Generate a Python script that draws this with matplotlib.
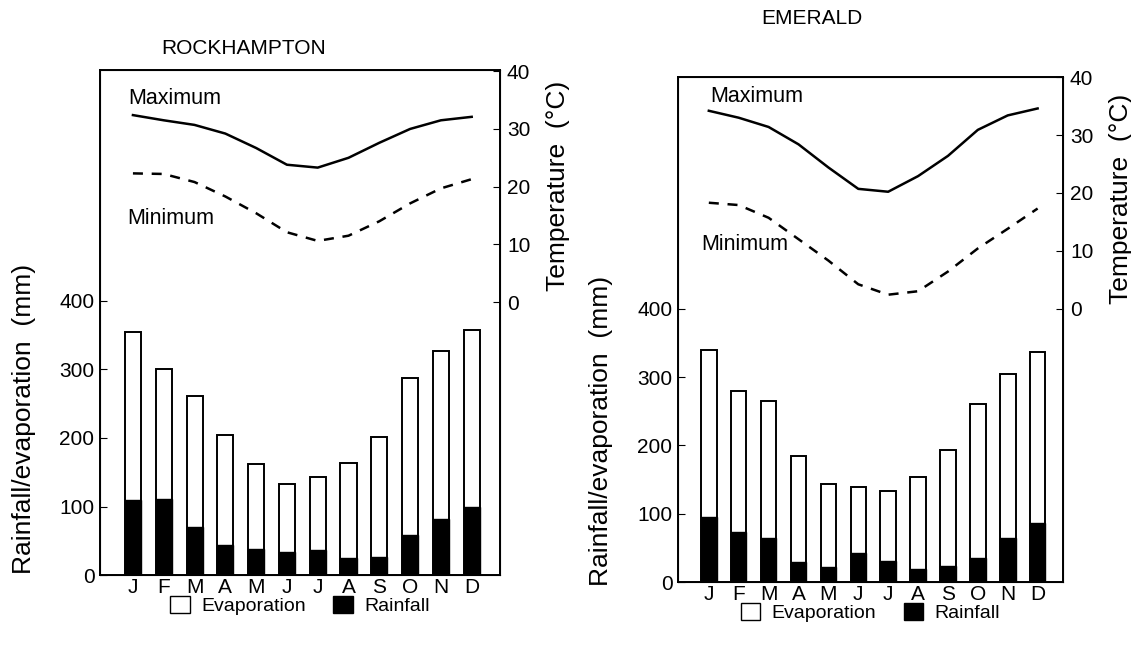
import numpy as np
import matplotlib
matplotlib.use('Agg')
from matplotlib import pyplot as plt
from matplotlib.patches import Patch

plt.rcParams['font.family'] = ['Liberation Sans', 'DejaVu Sans']

months = ['J', 'F', 'M', 'A', 'M', 'J', 'J', 'A', 'S', 'O', 'N', 'D']

# Rockhampton
rock_evap = [355, 300, 262, 205, 162, 133, 143, 163, 202, 287, 327, 358]
rock_rain = [110, 111, 70, 44, 38, 34, 36, 25, 26, 59, 82, 100]
rock_tmax = [32.4, 31.5, 30.7, 29.2, 26.7, 23.8, 23.3, 25.0, 27.6, 30.0, 31.5, 32.1]
rock_tmin = [22.3, 22.2, 20.8, 18.3, 15.4, 12.1, 10.6, 11.5, 14.0, 17.1, 19.7, 21.3]

# Emerald
emer_evap = [339, 280, 265, 185, 143, 139, 134, 154, 194, 261, 304, 336]
emer_rain = [96, 73, 64, 30, 22, 42, 31, 19, 24, 36, 64, 87]
emer_tmax = [34.2, 33.0, 31.4, 28.4, 24.4, 20.7, 20.2, 22.9, 26.4, 30.9, 33.4, 34.6]
emer_tmin = [18.3, 17.9, 15.7, 12.0, 8.3, 4.2, 2.4, 3.0, 6.4, 10.4, 13.8, 17.3]

fig = plt.figure(figsize=(11.31, 6.49), dpi=100)


def panel(rect, title, title_xy, evap, rain, tmax, tmin, xlim, ylim, tlim,
          max_xy, min_xy, legend_y, ylab_xy, tlab_xy):
    ax = fig.add_axes(rect)
    x = np.arange(12)
    ax.bar(x, evap, width=0.52, color='white', edgecolor='black', linewidth=1.4)
    ax.bar(x, rain, width=0.52, color='black', edgecolor='black', linewidth=1.0)
    ax.set_xlim(*xlim)
    ax.set_ylim(*ylim)
    ax.set_yticks([0, 100, 200, 300, 400])
    ax.set_xticks(x)
    ax.set_xticklabels(months, fontsize=15)
    ax.tick_params(axis='x', length=0, pad=2)
    ax.tick_params(axis='y', direction='in', length=5, labelsize=15, pad=4)
    ax.set_ylabel('Rainfall/evaporation  (mm)', fontsize=19)
    ax.yaxis.set_label_coords(*ylab_xy)
    for s in ax.spines.values():
        s.set_linewidth(1.4)

    ax2 = ax.twinx()
    ax2.plot(x, tmax, color='black', linewidth=1.8)
    ax2.plot(x, tmin, color='black', linewidth=1.8, linestyle=(0, (4, 3.5)))
    ax2.set_ylim(*tlim)
    ax2.set_yticks([0, 10, 20, 30, 40])
    ax2.tick_params(axis='y', direction='in', length=5, labelsize=15, pad=5)
    ax2.set_ylabel('Temperature  (°C)', fontsize=19)
    ax2.yaxis.set_label_coords(*tlab_xy)
    ax2.text(max_xy[0], max_xy[1], 'Maximum', fontsize=15.5, va='center')
    ax2.text(min_xy[0], min_xy[1], 'Minimum', fontsize=15.5, va='center')

    fig.text(title_xy[0], title_xy[1], title, fontsize=15, ha='center', va='center')

    handles = [Patch(facecolor='white', edgecolor='black', label='Evaporation'),
               Patch(facecolor='black', edgecolor='black', label='Rainfall')]
    ax.legend(handles=handles, loc='center', bbox_to_anchor=(0.5, legend_y), ncol=2,
              frameon=False, fontsize=14, handlelength=1.0, handleheight=1.0,
              columnspacing=1.4, handletextpad=0.6)
    return ax


panel([0.0884, 0.114, 0.3537, 0.778], 'ROCKHAMPTON', (0.215, 0.926),
      rock_evap, rock_rain, rock_tmax, rock_tmin,
      (-1.07, 11.92), (0, 737), (-47.3, 40.2),
      (-0.15, 35.2), (-0.2, 14.4), -0.06, (-0.16, 0.31), (1.115, 0.77))

panel([0.5995, 0.103, 0.3404, 0.778], 'EMERALD', (0.718, 0.972),
      emer_evap, emer_rain, emer_tmax, emer_tmin,
      (-1.03, 11.85), (0, 738.6), (-47.3, 40.0),
      (0.06, 36.6), (-0.24, 11.0), -0.06, (-0.17, 0.30), (1.12, 0.76))

fig.savefig('out.png', dpi=100)
